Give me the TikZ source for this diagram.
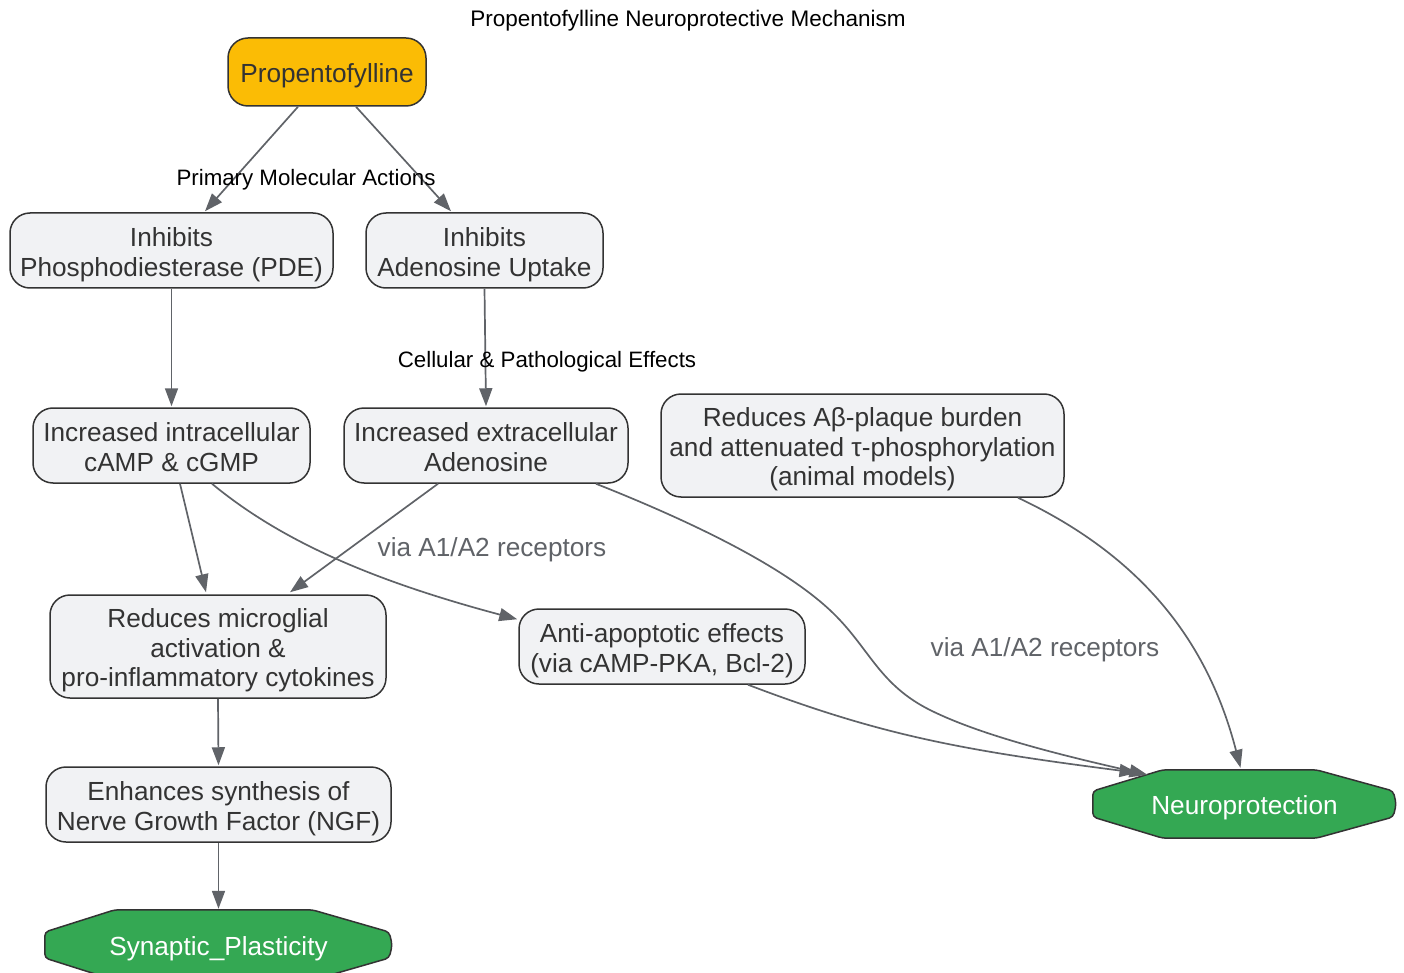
\documentclass[tikz,border=0pt]{standalone}
\usepackage{fontspec}
\setmainfont{Liberation Sans}
\usetikzlibrary{arrows.meta,calc}
\definecolor{edgegray}{HTML}{606368}
\definecolor{boxfill}{HTML}{F1F2F4}
\definecolor{boxline}{HTML}{333333}
\definecolor{txt}{HTML}{333333}
\definecolor{gold}{HTML}{FBBC05}
\definecolor{leaf}{HTML}{34A853}
\newcommand{\bt}[1]{\raisebox{-5pt}[\height][\depth]{\begin{tabular}{@{}c@{}}#1\end{tabular}}}
\tikzset{
  boxtext/.style={align=center, inner sep=0pt, font=\fontsize{26.2}{29.5}\selectfont},
  one/.style={execute at begin node={\rule{0pt}{28pt}}, execute at end node={\rule[-7pt]{0pt}{7pt}}},
  box/.style={boxtext, draw=boxline, line width=1.5pt, fill=boxfill, rounded corners=20pt, text=txt},
  octo/.style={boxtext, one, draw=none, text=white},
  conn/.style={draw=edgegray, line width=1.7pt, -{Triangle[length=18pt,width=13pt]}},
  elabel/.style={text=black, font=\fontsize{22.3}{26}\selectfont, inner sep=1pt},
  glabel/.style={text=edgegray, font=\fontsize{26.2}{29.5}\selectfont, inner sep=1pt},
}
\newcommand{\octagon}[1]{%
  \draw[draw=boxline, line width=1.5pt, fill=leaf, rounded corners=4pt]
    ($(#1.north west)+(70,0)$) -- ($(#1.north east)+(-80,0)$) -- ($(#1.east)+(-3,-13)$) -- ($(#1.east)+(0,0)$) -- ($(#1.east)+(-3,13)$) -- ($(#1.south east)+(-80,0)$) -- ($(#1.south west)+(70,0)$) -- ($(#1.west)+(0,13)$) -- ($(#1.west)+(0,-13)$) -- cycle;}
\begin{document}
\begin{tikzpicture}[x=1pt,y=-1pt]
\useasboundingbox (0,0) rectangle (1404,973);
\node[font=\fontsize{22.5}{26}\selectfont, text=black] (title) at (688,20.5) {Propentofylline Neuroprotective Mechanism};

\node[box, one, fill=gold, minimum width=198pt, minimum height=68pt] (prop) at (327,72) {Propentofylline};
\node[box, minimum width=323pt, minimum height=75pt] (pde) at (171.5,250.5) {\bt{Inhibits\\Phosphodiesterase (PDE)}};
\node[box, minimum width=237pt, minimum height=75pt] (upt) at (484.5,250.5) {\bt{Inhibits\\Adenosine Uptake}};
\node[box, minimum width=277pt, minimum height=75pt] (intra) at (171.5,445.5) {\bt{Increased intracellular\\cAMP \& cGMP}};
\node[box, minimum width=284pt, minimum height=75pt] (extra) at (486,445.5) {\bt{Increased extracellular\\Adenosine}};
\node[box, minimum width=403pt, minimum height=103pt] (abeta) at (862.5,445.5) {\bt{Reduces Aβ-plaque burden\\and attenuated τ-phosphorylation\\(animal models)}};
\node[box, minimum width=336pt, minimum height=103pt] (micro) at (218,646.5) {\bt{Reduces microglial\\activation \&\\pro-inflammatory cytokines}};
\node[box, minimum width=286pt, minimum height=75pt] (anti) at (662,646.5) {\bt{Anti-apoptotic effects\\(via cAMP-PKA, Bcl-2)}};
\node[box, minimum width=345pt, minimum height=75pt] (ngf) at (218.5,804.5) {\bt{Enhances synthesis of\\Nerve Growth Factor (NGF)}};

\node[octo, minimum width=303pt, minimum height=68pt] (neuro) at (1244.5,804) {};
\octagon{neuro}
\node[octo] (neurotext) at (neuro) {Neuroprotection};
\node[octo, minimum width=347pt, minimum height=70pt] (syn) at (218.5,945) {};
\octagon{syn}
\node[octo] (syntext) at (syn) {Synaptic\_Plasticity};

\draw[conn] ($(prop.south)+(-29,0)$) -- ($(pde.north)+(33.5,-1)$);
\draw[conn] ($(prop.south)+(29,0)$) -- ($(upt.north)+(-33.5,-1)$);
\node[elabel] (l1) at (306,179.5) {Primary Molecular Actions};

\draw[conn] (pde.south) -- ($(intra.north)+(0,-1)$);
\draw[conn] (upt.south) -- ($(extra.north)+(0,-1)$);
\node[elabel] (l2) at (547,361.5) {Cellular \& Pathological Effects};

\draw[conn] ($(intra.south)+(8.5,0)$) -- ($(micro.north)+(-12,-2)$);
\draw[conn] ($(intra.south)+(40.5,0)$) .. controls (280,540) and (370,580) .. ($(anti.north west)+(-1,11)$);
\draw[conn] ($(extra.south)+(-48,0)$) -- ($(micro.north)+(72,-2)$);
\node[glabel] (l3) at (492,549.5) {via A1/A2 receptors};

\draw[conn] ($(extra.south)+(110,0)$) .. controls (700,525) and (790,570) .. (835,615) .. controls (870,650) and (880,685) .. (930,710) .. controls (980,735) and (1060,755) .. ($(neuro.north)+(-97,5)$);
\node[glabel] (l4) at (1045,649.5) {via A1/A2 receptors};
\draw[conn] ($(anti.south)+(86,0)$) .. controls (880,735) and (960,750) .. ($(neuro.north)+(-107,3)$);
\draw[conn] ($(abeta.south)+(155.5,0)$) .. controls (1150,560) and (1210,650) .. ($(neuro.north)+(-4,-2)$);

\draw[conn] (micro.south) -- ($(ngf.north)+(0,-1)$);
\draw[conn] (ngf.south) -- ($(syn.north)+(0,-1)$);
\end{tikzpicture}
\end{document}
